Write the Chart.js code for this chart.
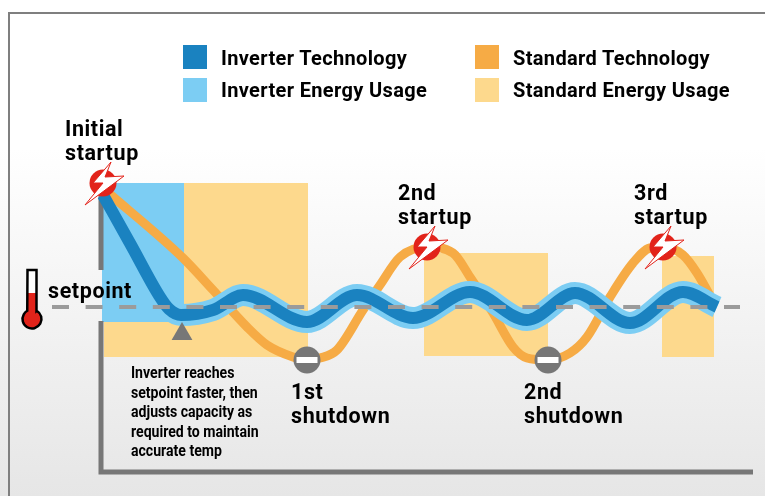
<!DOCTYPE html>
<html>
<head>
<meta charset="utf-8">
<script src="https://cdn.jsdelivr.net/npm/chart.js@4/dist/chart.umd.min.js"></script>
<style>
    html, body { margin: 0; padding: 0; }
    body {
        width: 765px; height: 496px; position: relative; overflow: hidden;
        background: linear-gradient(#ffffff 0%, #ffffff 30%, #e6e6e6 100%);
        font-family: Roboto, sans-serif; color: #000;
    }
    canvas { position: absolute; left: 0; top: 0; }
    #frame { position: absolute; left: 8px; top: 12px; width: 760px; height: 490px; border-top: 2px solid #7f7f7f; border-left: 2px solid #7f7f7f; }
    .swatch { position: absolute; width: 24px; height: 24px; }
    .legend { position: absolute; font-weight: 700; font-size: 20px; line-height: 24px; letter-spacing: 0.35px; white-space: nowrap; }
    .note { position: absolute; font-weight: 700; font-size: 21.5px; line-height: 24px; letter-spacing: 0.6px; white-space: pre; }
    #inverterNote { position: absolute; left: 131px; top: 363px; font-weight: 700; font-size: 16px; line-height: 19.6px; white-space: pre; transform: scaleX(0.88); transform-origin: left top; }
</style>
</head>
<body>
<div id="frame"></div>
<canvas id="chart" width="765" height="496"></canvas>

<div class="swatch" style="left:183px;top:45px;background:#1a82c0"></div>
<div class="legend" style="left:221px;top:46px">Inverter Technology</div>
<div class="swatch" style="left:183px;top:78px;background:#7ccdf3"></div>
<div class="legend" style="left:221px;top:78px">Inverter Energy Usage</div>
<div class="swatch" style="left:475px;top:45px;background:#f6ab45"></div>
<div class="legend" style="left:513px;top:46px">Standard Technology</div>
<div class="swatch" style="left:475px;top:78px;background:#fdd98d"></div>
<div class="legend" style="left:513px;top:78px">Standard Energy Usage</div>

<div class="note" style="left:65px;top:117px">Initial
startup</div>
<div class="note" style="left:48px;top:279px">setpoint</div>
<div class="note" style="left:398px;top:181px">2nd
startup</div>
<div class="note" style="left:634px;top:181px">3rd
startup</div>
<div class="note" style="left:291px;top:380px">1st
shutdown</div>
<div class="note" style="left:524px;top:380px">2nd
shutdown</div>
<div id="inverterNote">Inverter reaches
setpoint faster, then
adjusts capacity as
required to maintain
accurate temp</div>

<script>
// x = time along the chart, y = temperature offset from the setpoint
const inverterX = [2, 30, 59, 68, 80, 112, 142, 206, 256, 312, 369, 426, 474, 529, 582, 616];
const inverterY = [112, 62, 10, -2, -8, -3, 12, -15, 12, -11, 15, -13, 14, -16, 15, 0];

const standardX = [4, 82, 112, 146, 166, 192, 206, 219, 236, 262, 279, 299, 326, 352, 369, 392, 412, 426, 447, 469, 486, 509, 532, 549, 562, 582, 596, 613];
const standardY = [117, 49, 17, -20, -38, -50, -53, -51, -43, -3, 22, 50, 60, 54, 30, -6, -40, -51, -53, -46, -30, 10, 44, 59, 60, 52, 34, 4];

const inverterUsageStart = [1];
const inverterUsageEnd = [83];
const inverterUsageTop = [124];
const inverterUsageBottom = [-15];

const standardUsageStart = [3, 323, 561];
const standardUsageEnd = [207, 447, 613];
const standardUsageTop = [124, 54, 51];
const standardUsageBottom = [-50, -49, -50];

const startupX = [2, 326, 562];
const startupY = [124, 60, 60];
const shutdownX = [206, 447];
const shutdownY = [-53, -53];
const reachedX = [81];
const reachedY = [-27];
const setpointX = [-49, 639];
const setpointY = [0, 0];
const thermometerX = [-69];
const thermometerY = [8];
const axisX = [0, 0, null, 0, 0, 652];
const axisY = [117, 37, null, -14, -165, -165];

const points = (xs, ys) => xs.map((x, i) => ({ x, y: ys[i] }));

const makeIcon = (width, height, draw) => {
    const icon = document.createElement('canvas');
    icon.width = width;
    icon.height = height;
    draw(icon.getContext('2d'));
    return icon;
};

const startupIcon = makeIcon(60, 60, (ctx) => {
    ctx.fillStyle = '#e2231a';
    ctx.beginPath();
    ctx.arc(30, 30, 13.5, 0, Math.PI * 2);
    ctx.fill();
    ctx.beginPath();
    ctx.moveTo(38, 9);
    ctx.lineTo(20, 30);
    ctx.lineTo(30, 30);
    ctx.lineTo(12, 52);
    ctx.lineTo(51, 23);
    ctx.lineTo(32, 24);
    ctx.closePath();
    ctx.fillStyle = '#ffffff';
    ctx.fill();
    ctx.strokeStyle = '#e2231a';
    ctx.lineWidth = 1;
    ctx.stroke();
});

const shutdownIcon = makeIcon(30, 30, (ctx) => {
    ctx.fillStyle = '#777777';
    ctx.beginPath();
    ctx.arc(15, 15, 13.5, 0, Math.PI * 2);
    ctx.fill();
    ctx.fillStyle = '#ffffff';
    ctx.fillRect(4.5, 12, 21, 6);
});

const thermometerIcon = makeIcon(30, 64, (ctx) => {
    const shape = () => {
        ctx.beginPath();
        ctx.moveTo(10.5, 3);
        ctx.lineTo(19.5, 3);
        ctx.lineTo(19.5, 44);
        ctx.arc(15, 52, 9.5, -Math.PI / 3, Math.PI * 4 / 3);
        ctx.lineTo(10.5, 3);
        ctx.closePath();
    };
    shape();
    ctx.fillStyle = '#ffffff';
    ctx.fill();
    ctx.save();
    ctx.clip();
    ctx.fillStyle = '#e2231a';
    ctx.fillRect(0, 26, 30, 40);
    ctx.restore();
    shape();
    ctx.strokeStyle = '#000000';
    ctx.lineWidth = 2.5;
    ctx.stroke();
});

const usageBlock = (start, end, top, bottom, color) => ({
    data: [{ x: start, y: top }, { x: end, y: top }],
    showLine: true,
    fill: { value: bottom },
    backgroundColor: color,
    borderWidth: 0,
    pointRadius: 0
});

// written back to front; Chart.js paints the first dataset last, hence the reverse()
const datasets = [
    ...standardUsageStart.map((start, i) =>
        usageBlock(start, standardUsageEnd[i], standardUsageTop[i], standardUsageBottom[i], '#fdd98d')),
    ...inverterUsageStart.map((start, i) =>
        usageBlock(start, inverterUsageEnd[i], inverterUsageTop[i], inverterUsageBottom[i], '#7ccdf3')),
    {
        data: points(standardX, standardY),
        showLine: true,
        borderColor: '#f6ab45',
        borderWidth: 9,
        cubicInterpolationMode: 'monotone',
        pointRadius: 0
    },
    {
        data: points(axisX, axisY),
        showLine: true,
        spanGaps: false,
        borderColor: '#777777',
        borderWidth: 5,
        pointRadius: 0
    },
    {
        data: points(inverterX, inverterY).slice(2),
        showLine: true,
        borderColor: '#7ccdf3',
        borderWidth: 22,
        cubicInterpolationMode: 'monotone',
        pointRadius: 0
    },
    {
        data: points(inverterX, inverterY),
        showLine: true,
        borderColor: '#1a82c0',
        borderWidth: 12,
        cubicInterpolationMode: 'monotone',
        pointRadius: 0
    },
    {
        data: points(setpointX, setpointY),
        showLine: true,
        borderColor: '#9b9b9b',
        borderWidth: 4,
        borderDash: [17, 16.6],
        pointRadius: 0
    },
    {
        data: points(reachedX, reachedY),
        pointStyle: 'triangle',
        pointRadius: 12,
        backgroundColor: '#777777',
        borderWidth: 0
    },
    { data: points(startupX, startupY), pointStyle: startupIcon },
    { data: points(shutdownX, shutdownY), pointStyle: shutdownIcon },
    { data: points(thermometerX, thermometerY), pointStyle: thermometerIcon }
].reverse();

new Chart(document.getElementById('chart'), {
    type: 'scatter',
    data: { datasets },
    options: {
        responsive: false,
        animation: false,
        layout: { padding: 0, autoPadding: false },
        plugins: {
            legend: { display: false },
            tooltip: { enabled: false }
        },
        scales: {
            x: { type: 'linear', display: false, min: -101, max: 664 },
            y: { type: 'linear', display: false, min: -189, max: 307 }
        }
    }
});
</script>
</body>
</html>
